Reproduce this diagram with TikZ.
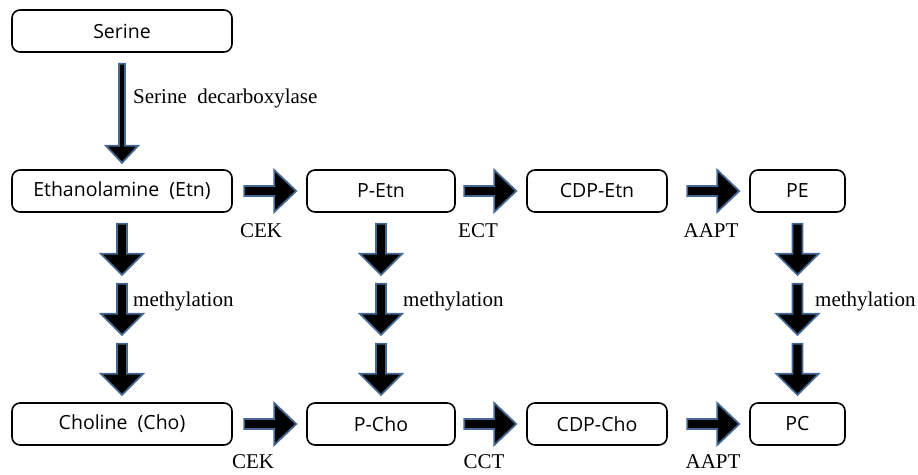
\documentclass[tikz,border=0pt]{standalone}
\usepackage{fontspec}
\setmainfont{Liberation Serif}
\newfontfamily\boxfont{Open Sans}
\usetikzlibrary{positioning}
\definecolor{arrowblue}{RGB}{68, 104, 145}

\tikzset{
    pathbox/.style={draw, line width=1.6pt, rounded corners=8pt, minimum height=42pt,
        inner sep=0pt, font=\boxfont\fontsize{19.5}{22}\selectfont},
    enzyme/.style={font=\fontsize{21}{25}\selectfont, inner sep=0pt},
    blockarrow/.style={fill=black, draw=arrowblue, line width=1.8pt, line join=miter},
    rarrow/.pic={\filldraw[blockarrow] (-52,-5) -- (-22,-5) -- (-22,-21) -- (0,0)
        -- (-22,21) -- (-22,5) -- (-52,5) -- cycle;},
    darrow/.pic={\filldraw[blockarrow] (-5,0) -- (-5,-30) -- (-21,-30) -- (0,-51)
        -- (21,-30) -- (5,-30) -- (5,0) -- cycle;},
    sarrow/.pic={\filldraw[blockarrow] (-3,0) -- (-3,-82) -- (-16,-82) -- (0,-99)
        -- (16,-82) -- (3,-82) -- (3,0) -- cycle;}
}

\begin{document}
\begin{tikzpicture}[x=1pt, y=1pt]
    \useasboundingbox (0,0) rectangle (918,474);

    % Serine
    \node[pathbox, minimum width=220pt] (serine) at (122,443) {Serine};
    \pic at ([yshift=-11pt]serine.south) {sarrow};
    \node[enzyme, right] (sdc) at (133,376) {Serine\ \ decarboxylase};

    % Ethanolamine row
    \node[pathbox, minimum width=220pt] (etn) at (122,283) {Ethanolamine\ \ (Etn)};
    \node[pathbox, minimum width=148pt] (petn) at (381,283) {P-Etn};
    \node[pathbox, minimum width=140pt] (cdpetn) at (597,283) {CDP-Etn};
    \node[pathbox, minimum width=95pt] (pe) at (797.5,283) {PE};
    \pic at ([xshift=-10pt]petn.west) {rarrow};
    \pic at ([xshift=-10pt]cdpetn.west) {rarrow};
    \pic at ([xshift=-10pt]pe.west) {rarrow};
    \node[enzyme] (cekt) at (261,243) {CEK};
    \node[enzyme] (ect) at (478,243) {ECT};
    \node[enzyme] (aaptt) at (711,243) {AAPT};

    % Choline row
    \node[pathbox, minimum width=220pt] (cho) at (122,50) {Choline\ \ (Cho)};
    \node[pathbox, minimum width=148pt] (pcho) at (381,50) {P-Cho};
    \node[pathbox, minimum width=140pt] (cdpcho) at (597,50) {CDP-Cho};
    \node[pathbox, minimum width=95pt] (pc) at (797.5,50) {PC};
    \pic at ([xshift=-10pt]pcho.west) {rarrow};
    \pic at ([xshift=-10pt]cdpcho.west) {rarrow};
    \pic at ([xshift=-10pt]pc.west) {rarrow};
    \node[enzyme] (cekb) at (253,12) {CEK};
    \node[enzyme] (cct) at (484,12) {CCT};
    \node[enzyme] (aaptb) at (713,12) {AAPT};

    % Methylation steps
    \foreach \col in {etn, petn, pe}
        \foreach \k in {0,1,2}
            \pic at ([yshift={-11pt-\k*60pt}]\col.south) {darrow};
    \node[enzyme, right] (meth1) at (133,173) {methylation};
    \node[enzyme, right] (meth2) at (403,173) {methylation};
    \node[enzyme, right] (meth3) at (815,173) {methylation};
\end{tikzpicture}
\end{document}
